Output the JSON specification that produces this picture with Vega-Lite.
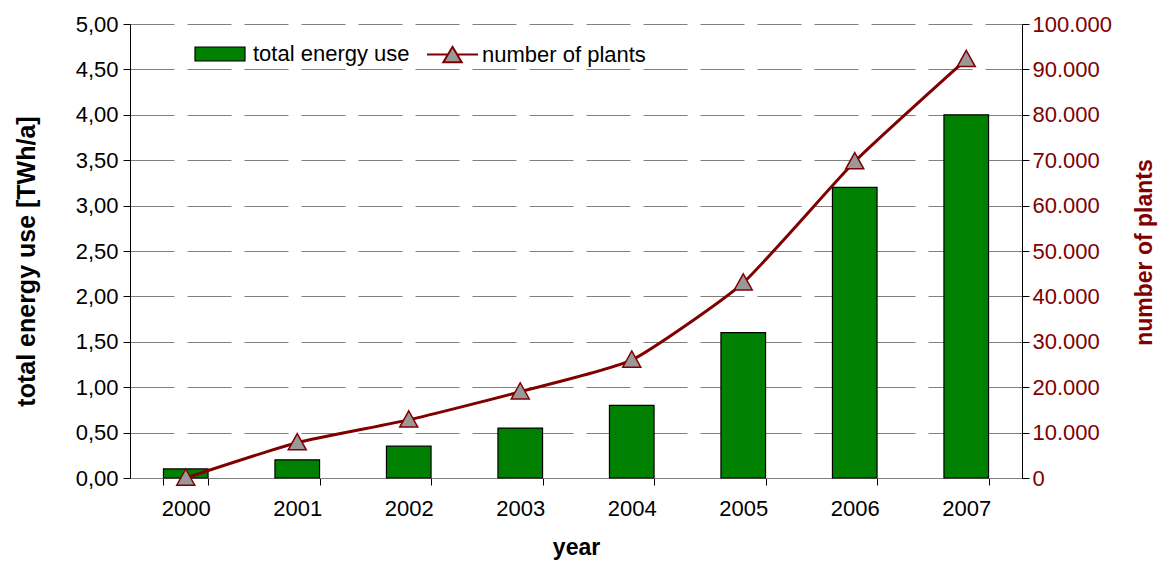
{
  "$schema": "https://vega.github.io/schema/vega-lite/v6.json",
  "autosize": {"type": "none"},
  "width": 892,
  "height": 454,
  "padding": {"left": 130, "top": 24, "right": 143, "bottom": 86},
  "background": "white",
  "config": {
    "font": "Liberation Sans",
    "view": {"stroke": null},
    "axis": {"labelFont": "Liberation Sans", "titleFont": "Liberation Sans", "labelFontSize": 22, "titleFontSize": 23, "titleFontWeight": "bold", "labelColor": "black", "titleColor": "black", "tickColor": "black", "domainColor": "black", "tickSize": 7, "labelFontWeight": "normal"},
    "legend": {"labelFont": "Liberation Sans", "labelFontSize": 22, "labelColor": "black", "labelLimit": 400}
  },
  "data": {
    "values": [
      {"year": "2000", "energy": 0.10, "plants": 0},
      {"year": "2001", "energy": 0.20, "plants": 7800},
      {"year": "2002", "energy": 0.35, "plants": 12800},
      {"year": "2003", "energy": 0.55, "plants": 19000},
      {"year": "2004", "energy": 0.80, "plants": 26000},
      {"year": "2005", "energy": 1.60, "plants": 43000},
      {"year": "2006", "energy": 3.20, "plants": 69700},
      {"year": "2007", "energy": 4.00, "plants": 92200}
    ]
  },
  "encoding": {
    "x": {
      "field": "year", "type": "ordinal",
      "scale": {"paddingInner": 0.6, "paddingOuter": 0.3},
      "axis": {"title": "year", "labelAngle": 0, "tickBand": "extent", "domainColor": "#808080", "labelPadding": 13, "titlePadding": 17, "grid": false}
    }
  },
  "layer": [
    {
      "mark": {"type": "bar", "stroke": "black", "strokeWidth": 1.2},
      "encoding": {
        "y": {
          "field": "energy", "type": "quantitative",
          "scale": {"domain": [0, 5], "nice": false},
          "axis": {
            "title": "total energy use [TWh/a]",
            "values": [0, 0.5, 1, 1.5, 2, 2.5, 3, 3.5, 4, 4.5, 5],
            "labelExpr": "replace(format(datum.value, '.2f'), '.', ',')",
            "grid": true, "gridColor": "#808080", "gridDash": [44, 13], "gridWidth": 1,
            "labelPadding": 5,
            "titleFontSize": 25,
            "titleX": -104, "titleY": 237, "titleBaseline": "middle", "titleAlign": "center", "titleAngle": 270
          }
        },
        "fill": {
          "datum": "total energy use", "type": "nominal",
          "scale": {"range": ["#008000"]},
          "legend": {"title": null, "orient": "none", "legendX": 64, "legendY": 4, "symbolType": "M-1,-0.28H1V0.28H-1Z", "symbolSize": 2500, "symbolStrokeColor": "black", "symbolStrokeWidth": 1.2, "labelOffset": 7}
        }
      }
    },
    {
      "encoding": {
        "y": {
          "field": "plants", "type": "quantitative",
          "scale": {"domain": [0, 100000], "nice": false},
          "axis": {
            "orient": "right",
            "title": "number of plants",
            "values": [0, 10000, 20000, 30000, 40000, 50000, 60000, 70000, 80000, 90000, 100000],
            "labelExpr": "replace(format(datum.value, ','), ',', '.')",
            "grid": false,
            "labelColor": "#800000", "titleColor": "#800000",
            "labelPadding": 3,
            "titleX": 122, "titleY": 228, "titleBaseline": "middle", "titleAlign": "center", "titleAngle": 270
          }
        }
      },
      "layer": [
        {
          "mark": {"type": "line", "interpolate": "cardinal", "tension": 0.5, "strokeWidth": 3},
          "encoding": {
            "stroke": {
              "datum": "number of plants", "type": "nominal",
              "scale": {"range": ["#800000"]},
              "legend": {"title": null, "orient": "none", "legendX": 296, "legendY": 4, "symbolType": "M-1,0H-0.2M0.2,0H1M0,-0.3L0.36,0.3H-0.36Z", "symbolSize": 2600, "symbolFillColor": "#999999", "symbolStrokeWidth": 2, "labelOffset": 3}
            }
          }
        },
        {
          "mark": {"type": "point", "shape": "M0,-1L1,0.8L-1,0.8Z", "size": 324, "filled": true, "fill": "#999999", "stroke": "#800000", "strokeWidth": 1.5, "opacity": 1}
        }
      ]
    }
  ],
  "resolve": {"scale": {"y": "independent"}}
}
